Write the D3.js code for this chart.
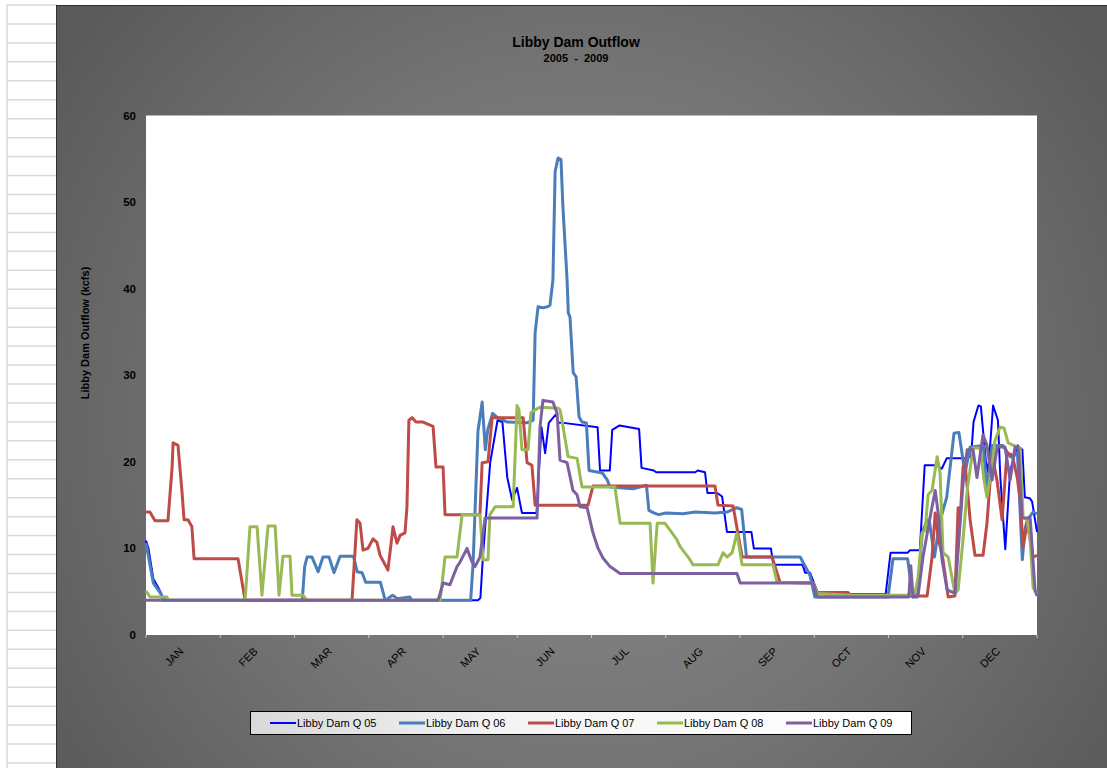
<!DOCTYPE html>
<html><head><meta charset="utf-8">
<script src="https://cdn.jsdelivr.net/npm/d3@7"></script>
<style>body{margin:0;background:#fff;overflow:hidden}svg{display:block;font-family:"Liberation Sans",Arial,sans-serif}</style>
</head><body><svg id="c" width="1107" height="768"></svg>
<script>
const months = ["JAN","FEB","MAR","APR","MAY","JUN","JUL","AUG","SEP","OCT","NOV","DEC"];
const yTicks = [0,10,20,30,40,50,60];
const seriesNames = ["Libby Dam Q 05","Libby Dam Q 06","Libby Dam Q 07","Libby Dam Q 08","Libby Dam Q 09"];
const seriesColors = ["#0000ff","#4a7ebb","#be4b48","#98b954","#7d60a0"];
const seriesWidths = [2,3,3,3,3];

// [day of year, kcfs]
const q05 = [[0,10.9],[1,10],[3,6.5],[5,5.5],[7,4.3],[8,4],[136,4],[137,4.3],[138,9],[141,19.9],[144,24.8],[146,24.6],[148,18.2],[150,15.6],[152,17],[154,14.1],[160,14.1],[162,24],[163.5,21],[165,24.5],[168,25.5],[169,24.5],[171,24.5],[185,24],[186,19],[190,19],[191,23.7],[194,24.2],[202,23.8],[203,19.3],[208,19],[209,18.8],[225,18.8],[226,19],[229,18.8],[230,16.4],[234,16.4],[236,16],[238,11.9],[248,11.9],[249,10],[256,10],[257,8.1],[269,8.1],[270,7.2],[272,7.2],[275,5],[278,4.7],[303,4.7],[305,9.5],[312,9.5],[313,9.8],[317,9.8],[319,19.6],[324,19.6],[326,19.2],[328,20.4],[335,20.4],[338,20.6],[339,24.6],[341,26.5],[342,26.4],[344,20.2],[345,18.8],[347,26.5],[349,24.8],[350,18.1],[352,9.9],[354,19],[357,21.9],[359,21.4],[360,15.9],[362,15.8],[363,15.4],[365,11.9]];
const q06 = [[0,10.6],[3,6],[6,4.8],[7,4],[64,4],[65,7.9],[66,9],[68,9],[70.5,7.3],[72.5,9],[75,9],[77,7.2],[79.5,9.1],[85,9.1],[86.5,7.3],[88.5,7.2],[90,6.1],[96,6.1],[98,4],[101,4.6],[103,4.2],[108,4.4],[109,4],[133,4],[134,8.3],[136,23.6],[137.7,26.9],[139,21.4],[140,23.7],[142,25.6],[144,25.1],[148,24.6],[156,24.5],[158.6,24.8],[159.4,34.9],[160.6,37.9],[162.6,37.8],[164.3,37.9],[165.5,38.1],[166.7,41],[167.6,53.5],[168.8,55.1],[170,54.9],[170.8,49.4],[172.5,41],[173,37.2],[173.7,36.7],[175,30.3],[176.2,29.8],[177.4,25.2],[178.6,24.6],[180.4,24.5],[181.5,19],[187,18.7],[189,17.9],[190,17.1],[199.5,16.9],[205,17.3],[206,14.4],[208,14.1],[210,13.9],[213,14.1],[220,14],[225,14.2],[233,14.1],[238,14.2],[242,14.7],[244,14.5],[246,9],[268,9],[272,6.9],[274,4.4],[304,4.4],[306,8.8],[312,8.8],[313,6.7],[314,4.4],[316,4.4],[318,11.8],[320,13.3],[321,13],[323,9],[325,12.9],[328,15.9],[331,23.3],[333,23.4],[335.5,18.7],[337.6,21.7],[343,21.9],[344.5,16.7],[346.6,21.9],[351,21.9],[354,20.6],[357,21],[359,8.7],[360,12.1],[361,13.3],[363.4,14.2],[365,14]];
const q07 = [[0,14.2],[1.6,14.2],[3.7,13.2],[9,13.2],[10.7,19.4],[11.1,22.2],[13.1,21.9],[14.7,16.7],[15.6,13.3],[17.2,13.3],[18.8,12.5],[19.7,8.8],[37.7,8.8],[40.6,4],[84.4,4],[86.4,13.3],[87.7,12.9],[88.9,9.8],[90.9,10],[93,11.1],[94.6,10.7],[95.9,9.2],[99.1,7.5],[101.2,12.5],[102.8,10.6],[104.1,11.5],[106.1,11.8],[106.9,14.8],[107.7,24.8],[109,25.1],[110.6,24.6],[113.5,24.6],[117.6,24.1],[118.8,19.4],[121.7,19.4],[122.5,13.9],[136.8,13.9],[137.7,19.9],[140.1,20],[141.8,25.1],[154.5,25.1],[156.1,19.9],[158.1,19.6],[159.4,15],[181.1,15],[183.1,17.2],[233.1,17.2],[234.3,15],[240.5,14.9],[244.2,9],[256.5,9],[259.7,6.1],[273.3,6],[274.9,4.9],[287.6,4.9],[289,4.5],[320,4.5],[322,9],[323.3,14.1],[324.5,11.3],[326.5,8.7],[328.6,4.4],[331.4,4.5],[332.7,14.7],[333.5,13.3],[334.7,19.4],[335.5,20],[337.6,13.3],[339.6,9.2],[342.9,9.2],[344.5,12.9],[346.6,20.8],[348.7,17.7],[350.7,13.3],[352.7,21],[354.8,20.8],[356.9,18.2],[358.1,15.6],[359.3,10.2],[361,13],[363.4,9],[365,9.2]];
const q08 = [[0,5.1],[1.6,4.4],[8.6,4.4],[9,4],[40.6,4],[42.6,12.5],[45.5,12.5],[47.5,4.6],[50,12.6],[52.9,12.6],[54.5,4.6],[56.1,9.1],[59,9.1],[59.8,4.6],[64.3,4.6],[66,4],[120.5,4],[122.5,9],[127.4,9],[129.5,13.9],[136.8,13.9],[138.1,8.7],[140.1,8.7],[140.9,13.9],[143,14.8],[150.4,14.8],[152,26.5],[152.8,26],[154,21.4],[156.5,21.4],[157.7,25.7],[159.4,26],[161.4,26.3],[168.8,26.2],[169.6,26],[170.4,24.8],[172.9,20.6],[176.6,20.4],[178.6,17.1],[192.1,17.1],[194.2,12.9],[206.5,12.9],[207.7,6],[209.4,12.9],[212.6,12.9],[215.5,11.8],[217.5,11],[218.8,10.2],[222.1,9],[224.1,8.1],[234.3,8.1],[236.4,9.5],[238,9],[240.1,9.5],[242.1,11.8],[244.2,8.1],[256.9,8.1],[258.5,6.1],[273.3,6],[274.9,4.8],[289,4.6],[313,4.6],[315,4.8],[316.3,6.7],[317.9,11.8],[319.2,12.1],[320.4,16.2],[322,16.7],[324.1,20.6],[325.3,18.7],[326.5,9.5],[328.6,9],[331.4,4.8],[332.7,5.2],[334.7,11],[336.4,16.7],[338.8,21.6],[341.7,21.6],[343.3,17.9],[344.5,15.9],[346.6,19.6],[347.8,22.5],[349.9,24],[351.5,23.9],[353.2,22.2],[356.9,21.7],[358.1,21.6],[359.3,13.6],[361,13.3],[362.2,11],[363.4,5.5],[365,4.8]];
const q09 = [[0,4],[119.6,4],[120.5,4.8],[121.7,6],[124.5,5.8],[127.4,7.9],[128.6,8.4],[131.5,10],[133.6,8.4],[134.8,7.9],[136.8,9],[138.9,13.5],[160.2,13.5],[161.4,24],[162.6,27.1],[166.7,26.9],[168.4,25.6],[169.6,20.2],[172.5,19.9],[174.9,16.7],[176.6,16.2],[177.8,14.8],[180.7,14.7],[183.1,11.8],[185.2,10],[187.2,8.9],[190.1,7.9],[194.2,7.1],[242.1,7.1],[243.4,6],[273.3,6],[274.9,4.4],[312.5,4.4],[313.3,8],[314.2,4.4],[316.3,4.6],[318.3,9],[321.2,13.6],[323.3,16.7],[324.5,14.1],[326.1,8.7],[328.2,5.2],[331.4,4.8],[332.7,9.8],[334.7,17.5],[336.4,21.4],[338.8,21.4],[340.4,18.2],[342.9,23.1],[344.5,21.9],[346.6,17.9],[348.7,21.7],[351.9,21.7],[354,17.9],[356,21.7],[357.3,21.6],[358.9,13.5],[362.2,13.5],[364.2,5.2],[365,4.5]];
const seriesData = [q05,q06,q07,q08,q09];

const svg = d3.select("#c");
const defs = svg.append("defs");
const rg = defs.append("radialGradient").attr("id","bg").attr("gradientUnits","userSpaceOnUse")
  .attr("cx",585).attr("cy",420).attr("r",640);
rg.append("stop").attr("offset","0").attr("stop-color","#8c8c8c");
rg.append("stop").attr("offset","0.55").attr("stop-color","#747474");
rg.append("stop").attr("offset","1").attr("stop-color","#5a5a5a");
const lg = defs.append("linearGradient").attr("id","leg").attr("x1","0").attr("y1","0").attr("x2","1").attr("y2","0");
lg.append("stop").attr("offset","0").attr("stop-color","#d9d9d9");
lg.append("stop").attr("offset","0.4").attr("stop-color","#f4f4f4");
lg.append("stop").attr("offset","1").attr("stop-color","#ffffff");

// spreadsheet strip
const rows = d3.range(0, 41);
svg.append("g").selectAll("line").data(rows).join("line")
  .attr("x1",7).attr("x2",57).attr("y1",d=>5+d*18.95).attr("y2",d=>5+d*18.95)
  .attr("stroke","#d8d8d8").attr("stroke-width",1.5);
svg.append("line").attr("x1",7).attr("x2",7).attr("y1",5).attr("y2",768).attr("stroke","#d8d8d8").attr("stroke-width",1.5);

// chart area
svg.append("rect").attr("x",56.5).attr("y",5.5).attr("width",1060).attr("height",770)
  .attr("fill","url(#bg)").attr("stroke","#303030").attr("stroke-width",1);

const x = d3.scaleLinear().domain([0,365]).range([146,1037]);
const xb = d3.scaleBand().domain(months).range([146,1037]);
const y = d3.scaleLinear().domain([0,60]).range([635,115.5]);

svg.append("rect").attr("x",146).attr("y",y(60)).attr("width",1037-146).attr("height",y(0)-y(60)).attr("fill","#fff");

// bottom ticks
const tickXs = months.map(m=>xb(m)).concat([1037]);
svg.append("g").selectAll("line").data(tickXs).join("line")
  .attr("x1",d=>d).attr("x2",d=>d).attr("y1",635).attr("y2",638).attr("stroke","#c8c8c8");

// y tick labels
svg.append("g").selectAll("text").data(yTicks).join("text")
  .attr("x",136).attr("y",d=>y(d)+4).attr("text-anchor","end")
  .attr("font-size","11.5px").attr("font-weight","bold").attr("fill","#000").text(d=>d);

// month labels
svg.append("g").selectAll("text").data(months).join("text")
  .attr("transform",d=>`translate(${xb(d)+xb.bandwidth()/2+1},652) rotate(-45)`)
  .attr("text-anchor","end").attr("font-size","11px").attr("fill","#000").text(d=>d);

// titles
svg.append("text").attr("x",576).attr("y",47).attr("text-anchor","middle").attr("font-size","14px").attr("font-weight","bold").text("Libby Dam Outflow");
svg.append("text").attr("x",576).attr("y",62).attr("text-anchor","middle").attr("font-size","11px").attr("font-weight","bold").style("white-space","pre").text("2005  -  2009");
svg.append("text").attr("transform","translate(89,333) rotate(-90)").attr("text-anchor","middle").attr("font-size","11px").attr("font-weight","bold").text("Libby Dam Outflow (kcfs)");

// lines
const line = d3.line().x(d=>x(d[0])).y(d=>y(d[1]));
svg.append("g").selectAll("path").data(seriesData).join("path")
  .attr("d",line).attr("fill","none")
  .attr("stroke",(d,i)=>seriesColors[i]).attr("stroke-width",(d,i)=>seriesWidths[i])
  .attr("stroke-linejoin","round");

// legend
svg.append("rect").attr("x",250.5).attr("y",711.5).attr("width",661).attr("height",23)
  .attr("fill","url(#leg)").attr("stroke","#000").attr("stroke-width",1);
const lgx = d3.scaleLinear().domain([0,4]).range([270,786]);
const le = svg.append("g").selectAll("g").data(seriesNames).join("g")
  .attr("transform",(d,i)=>`translate(${lgx(i)},723)`);
le.append("line").attr("x1",0).attr("x2",26).attr("y1",0).attr("y2",0)
  .attr("stroke",(d,i)=>seriesColors[i]).attr("stroke-width",(d,i)=>seriesWidths[i]);
le.append("text").attr("x",27).attr("y",4).attr("font-size","11px").text(d=>d);
</script></body></html>
